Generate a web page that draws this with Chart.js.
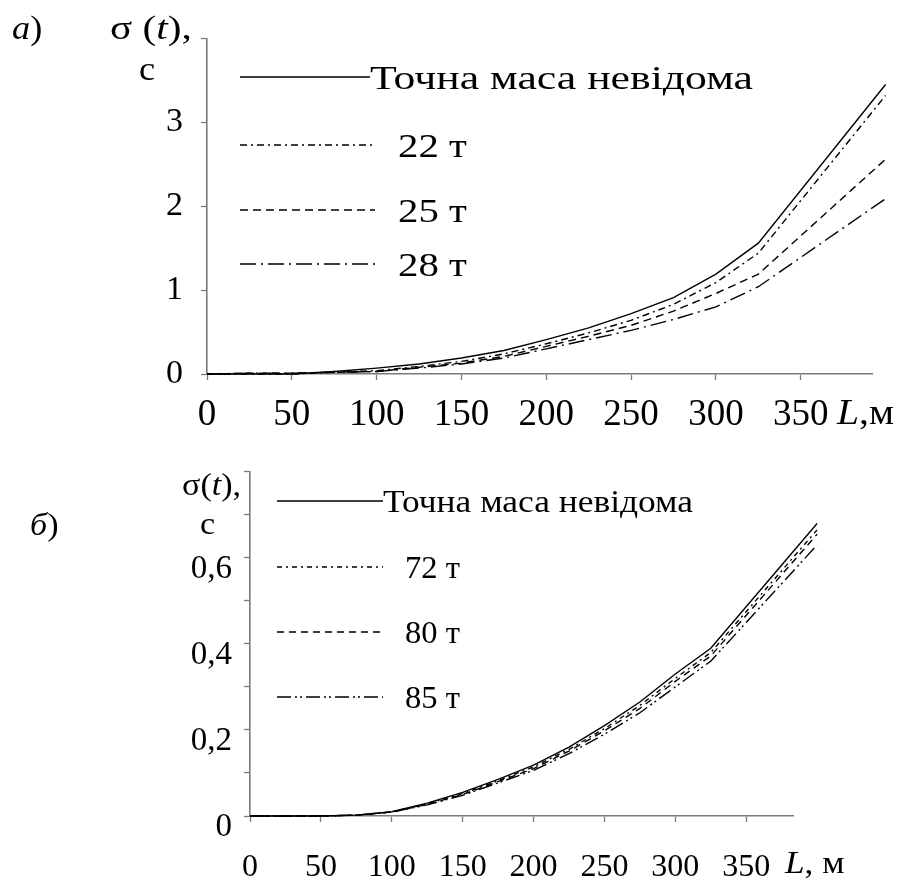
<!DOCTYPE html>
<html>
<head>
<meta charset="utf-8">
<script src="https://cdn.jsdelivr.net/npm/chart.js@4.4.1/dist/chart.umd.min.js"></script>
<style>
  html, body { margin: 0; padding: 0; background: #fff; }
  .wrap { position: absolute; left: 0; width: 904px; }
  #wrapA { top: 0; height: 440px; }
  #wrapB { top: 440px; height: 441px; }
</style>
</head>
<body>
<div class="wrap" id="wrapA"><canvas id="chartA"></canvas></div>
<div class="wrap" id="wrapB"><canvas id="chartB"></canvas></div>
<script>
// distance along the track, m
const distance = [0, 25, 50, 75, 100, 125, 150, 175, 200, 225, 250, 275, 300, 325, 400];
const xTicks = [0, 50, 100, 150, 200, 250, 300, 350];

// panel a) sigma(t), s
const aLabels = ["Точна маса невідома", "22 т", "25 т", "28 т"];
const aExact = [0, 0, 0, 0.03, 0.07, 0.12, 0.19, 0.28, 0.41, 0.55, 0.72, 0.91, 1.19, 1.56, 3.45];
const a22 = [0, 0, 0, 0.02, 0.04, 0.09, 0.15, 0.24, 0.36, 0.49, 0.64, 0.83, 1.09, 1.44, 3.32];
const a25 = [0, 0.01, 0.01, 0.02, 0.03, 0.08, 0.13, 0.21, 0.33, 0.45, 0.58, 0.75, 0.96, 1.19, 2.56];
const a28 = [0, 0.01, 0.01, 0.02, 0.03, 0.07, 0.12, 0.19, 0.30, 0.41, 0.52, 0.65, 0.80, 1.04, 2.09];

// panel б) sigma(t), s
const bLabels = ["Точна маса невідома", "72 т", "80 т", "85 т"];
const bExact = [0, 0, 0, 0.002, 0.010, 0.030, 0.055, 0.085, 0.118, 0.160, 0.210, 0.265, 0.330, 0.390, 0.680];
const b72 = [0, 0, 0, 0.002, 0.010, 0.028, 0.052, 0.082, 0.114, 0.155, 0.203, 0.257, 0.320, 0.380, 0.665];
const b80 = [0, 0, 0, 0.002, 0.009, 0.027, 0.050, 0.080, 0.110, 0.151, 0.198, 0.250, 0.313, 0.372, 0.655];
const b85 = [0, 0, 0, 0.002, 0.009, 0.026, 0.048, 0.077, 0.106, 0.145, 0.190, 0.240, 0.300, 0.360, 0.630];

const SERIF = '"Liberation Serif", "Times New Roman", serif';
const AXIS = "#7a7a7a";

function pts(ys) {
  return distance.map((x, i) => ({ x: x, y: ys[i] }));
}

function series(label, ys, dash) {
  return {
    label: label,
    data: pts(ys),
    borderColor: "#000",
    borderWidth: 1.4,
    borderDash: dash,
    pointRadius: 0,
    tension: 0,
    clip: false
  };
}

// draws runs of text: [[text, italic], ...], stretched by sx
function runs(ctx, parts, x, y, size, sx) {
  ctx.save();
  ctx.translate(x, y);
  ctx.scale(sx || 1, 1);
  let cx = 0;
  parts.forEach(function (p) {
    ctx.font = (p[1] ? "italic " : "") + size + "px " + SERIF;
    ctx.fillText(p[0], cx, 0);
    cx += ctx.measureText(p[0]).width;
  });
  ctx.restore();
}

const decor = {
  id: "decor",
  afterDraw: function (chart, args, o) {
    const ctx = chart.ctx;
    ctx.save();
    ctx.fillStyle = "#000";
    ctx.strokeStyle = "#000";
    ctx.textBaseline = "middle";
    ctx.textAlign = "left";
    // legend drawn inside the plot, one row per dataset
    chart.data.datasets.forEach(function (ds, i) {
      const y = o.rows[i];
      const x1 = i === 0 ? o.textX0 : o.lineX1;
      ctx.lineWidth = 1.4;
      ctx.setLineDash(ds.borderDash || []);
      ctx.beginPath();
      ctx.moveTo(o.lineX0, y);
      ctx.lineTo(x1, y);
      ctx.stroke();
      ctx.setLineDash([]);
      ctx.font = o.legendSize + "px " + SERIF;
      let sx = o.restStretch;
      if (i === 0) sx = o.firstWidth / ctx.measureText(ds.label).width;
      runs(ctx, [[ds.label, false]], i === 0 ? o.textX0 : o.textX, y + 3, o.legendSize, sx);
    });
    // panel label, axis titles
    o.texts.forEach(function (t) {
      runs(ctx, t.parts, t.x, t.y, t.size, t.sx);
    });
    ctx.restore();
  }
};

function makeChart(id, cfg) {
  return new Chart(document.getElementById(id), {
    type: "line",
    data: { datasets: cfg.datasets },
    plugins: [decor],
    options: {
      responsive: true,
      maintainAspectRatio: false,
      animation: false,
      events: [],
      layout: { padding: { left: 0, right: cfg.padRight, top: cfg.padTop, bottom: 0 } },
      plugins: {
        legend: { display: false },
        tooltip: { enabled: false },
        decor: cfg.decor
      },
      scales: {
        x: {
          type: "linear",
          min: 0,
          max: cfg.xMax,
          afterBuildTicks: function (s) {
            s.ticks = xTicks.map(function (v) { return { value: v }; });
          },
          afterFit: function (s) { s.height = cfg.xAxisH; },
          ticks: {
            maxRotation: 0,
            autoSkip: false,
            color: "#000",
            padding: cfg.xPad,
            font: { family: SERIF, size: cfg.xTickSize }
          },
          grid: { drawOnChartArea: false, tickLength: 6, tickColor: AXIS, tickWidth: 1.3 },
          border: { color: AXIS, width: 1.6 }
        },
        y: {
          min: 0,
          max: cfg.yMax,
          afterFit: function (s) { s.width = cfg.yAxisW; },
          ticks: {
            stepSize: cfg.yStep,
            color: "#000",
            padding: cfg.yPad,
            labelOffset: cfg.yLabelOffset,
            font: { family: SERIF, size: cfg.yTickSize },
            callback: cfg.yFormat
          },
          grid: { drawOnChartArea: false, tickLength: 6, tickColor: AXIS, tickWidth: 1.3 },
          border: { color: AXIS, width: 1.6 }
        }
      }
    }
  });
}

makeChart("chartA", {
  datasets: [
    series(aLabels[0], aExact, []),
    series(aLabels[1], a22, [7, 4, 2, 4]),
    series(aLabels[2], a25, [8, 5]),
    series(aLabels[3], a28, [16, 5, 2, 5])
  ],
  xMax: 392,
  yMax: 4,
  yStep: 0.5,
  padTop: 35,
  padRight: 32,
  xAxisH: 66,
  yAxisW: 207,
  xPad: 13,
  yPad: 18,
  yLabelOffset: 0,
  xTickSize: 37,
  yTickSize: 34,
  yFormat: function (v) {
    return Number.isInteger(v) && v < 4 ? String(v) : "";
  },
  decor: {
    rows: [77, 145, 210, 264],
    lineX0: 240,
    lineX1: 375,
    textX0: 370,
    textX: 398,
    legendSize: 34,
    firstWidth: 383,
    restStretch: 1.2,
    texts: [
      { parts: [["a", true], [")", false]], x: 12, y: 30, size: 33, sx: 1.1 },
      { parts: [["σ (", false], ["t", true], ["),", false]], x: 110, y: 30, size: 33, sx: 1.25 },
      { parts: [["с", false]], x: 139, y: 71, size: 33, sx: 1.1 },
      { parts: [["L", true], [",м", false]], x: 837, y: 415, size: 36, sx: 1.1 }
    ]
  }
});

makeChart("chartB", {
  datasets: [
    series(bLabels[0], bExact, []),
    series(bLabels[1], b72, [5, 4, 2, 4]),
    series(bLabels[2], b80, [7, 5]),
    series(bLabels[3], b85, [14, 4, 2, 3, 2, 4])
  ],
  xMax: 383,
  yMax: 0.8,
  yStep: 0.1,
  padTop: 30,
  padRight: 111,
  xAxisH: 65,
  yAxisW: 250,
  xPad: 26,
  yPad: 12,
  yLabelOffset: 11,
  xTickSize: 32,
  yTickSize: 33,
  yFormat: function (v) {
    const k = Math.round(v * 10);
    if (k % 2 !== 0 || k >= 8) return "";
    return k === 0 ? "0" : (k / 10).toFixed(1).replace(".", ",");
  },
  decor: {
    rows: [61, 127, 192, 257],
    lineX0: 277,
    lineX1: 383,
    textX0: 383,
    textX: 405,
    legendSize: 31,
    firstWidth: 310,
    restStretch: 1.05,
    texts: [
      { parts: [["б", true], [")", false]], x: 30, y: 87, size: 31, sx: 1.1 },
      { parts: [["σ(", false], ["t", true], ["),", false]], x: 182, y: 47, size: 31, sx: 1.1 },
      { parts: [["с", false]], x: 200, y: 86, size: 31, sx: 1.1 },
      { parts: [["L", true], [", м", false]], x: 785, y: 425, size: 32, sx: 1.1 }
    ]
  }
});
</script>
</body>
</html>
